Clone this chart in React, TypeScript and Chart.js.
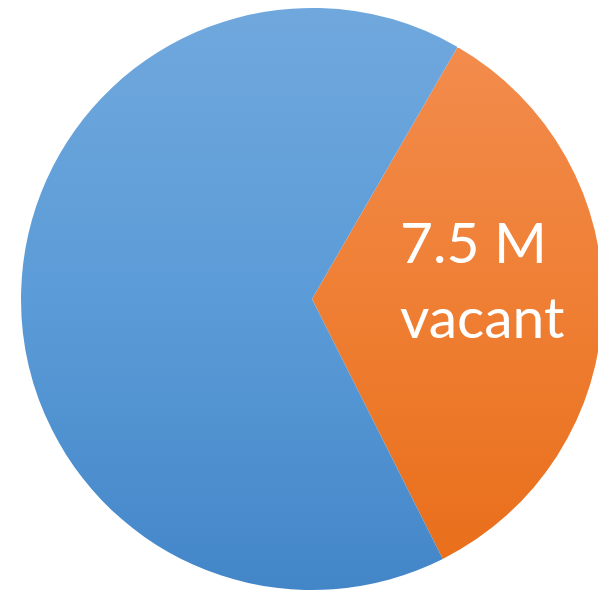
import React, { useEffect, useRef } from "react";
import { Chart, registerables } from "chart.js";

Chart.register(...registerables);

const categories = ["vacant", "occupied"];
const values = [7.5, 14.4];
const labelLines = ["7.5 M", "vacant"];

const gradientStops: Record<string, string[]> = {
  vacant: ["#f38d50", "#ef7f34", "#e86d18"],
  occupied: ["#70a8dd", "#5b9bd7", "#4386c8"],
};

const labelPlugin = {
  id: "sliceLabel",
  afterDatasetsDraw(chart: any) {
    const meta = chart.getDatasetMeta(0);
    const arc = meta.data[0];
    if (!arc) return;
    const { x, y, startAngle, endAngle, outerRadius } = arc.getProps(
      ["x", "y", "startAngle", "endAngle", "outerRadius"],
      true
    );
    const mid = (startAngle + endAngle) / 2;
    const r = outerRadius * 0.585;
    const cx = x + Math.cos(mid) * r;
    const cy = y + Math.sin(mid) * r;
    const ctx = chart.ctx;
    ctx.save();
    ctx.fillStyle = "#ffffff";
    ctx.font = "57px Lato, 'Open Sans', sans-serif";
    ctx.textBaseline = "alphabetic";
    ctx.textAlign = "left";
    const widths = labelLines.map((l) => ctx.measureText(l).width);
    const maxW = Math.max(...widths);
    const left = cx - maxW / 2;
    const lineH = 75;
    ctx.fillText(labelLines[0], left, cy - 41);
    ctx.fillText(labelLines[1], left, cy - 41 + lineH);
    ctx.restore();
  },
};

export default function App() {
  const ref = useRef<HTMLCanvasElement>(null);
  useEffect(() => {
    if (!ref.current) return;
    const chart = new Chart(ref.current, {
      type: "pie",
      data: {
        labels: categories,
        datasets: [
          {
            data: values,
            borderWidth: 0,
            backgroundColor: (ctx: any) => {
              const c = ctx.chart;
              const area = c.chartArea;
              const name = categories[ctx.dataIndex];
              const stops = gradientStops[name];
              if (!area) return stops[1];
              const g = c.ctx.createLinearGradient(0, area.top, 0, area.bottom);
              g.addColorStop(0, stops[0]);
              g.addColorStop(0.5, stops[1]);
              g.addColorStop(1, stops[2]);
              return g;
            },
          },
        ],
      },
      options: {
        responsive: false,
        animation: false,
        rotation: 30,
        layout: { padding: 9 },
        plugins: {
          legend: { display: false },
          tooltip: { enabled: false },
        },
      },
      plugins: [labelPlugin],
    });
    return () => chart.destroy();
  }, []);
  return (
    <div
      style={{
        position: "fixed",
        left: 0,
        top: 0,
        width: 598,
        height: 590,
        overflow: "hidden",
        background: "#fff",
      }}
    >
      <canvas
        ref={ref}
        width={600}
        height={600}
        style={{ position: "absolute", left: 12, top: -1, width: 600, height: 600 }}
      />
    </div>
  );
}
